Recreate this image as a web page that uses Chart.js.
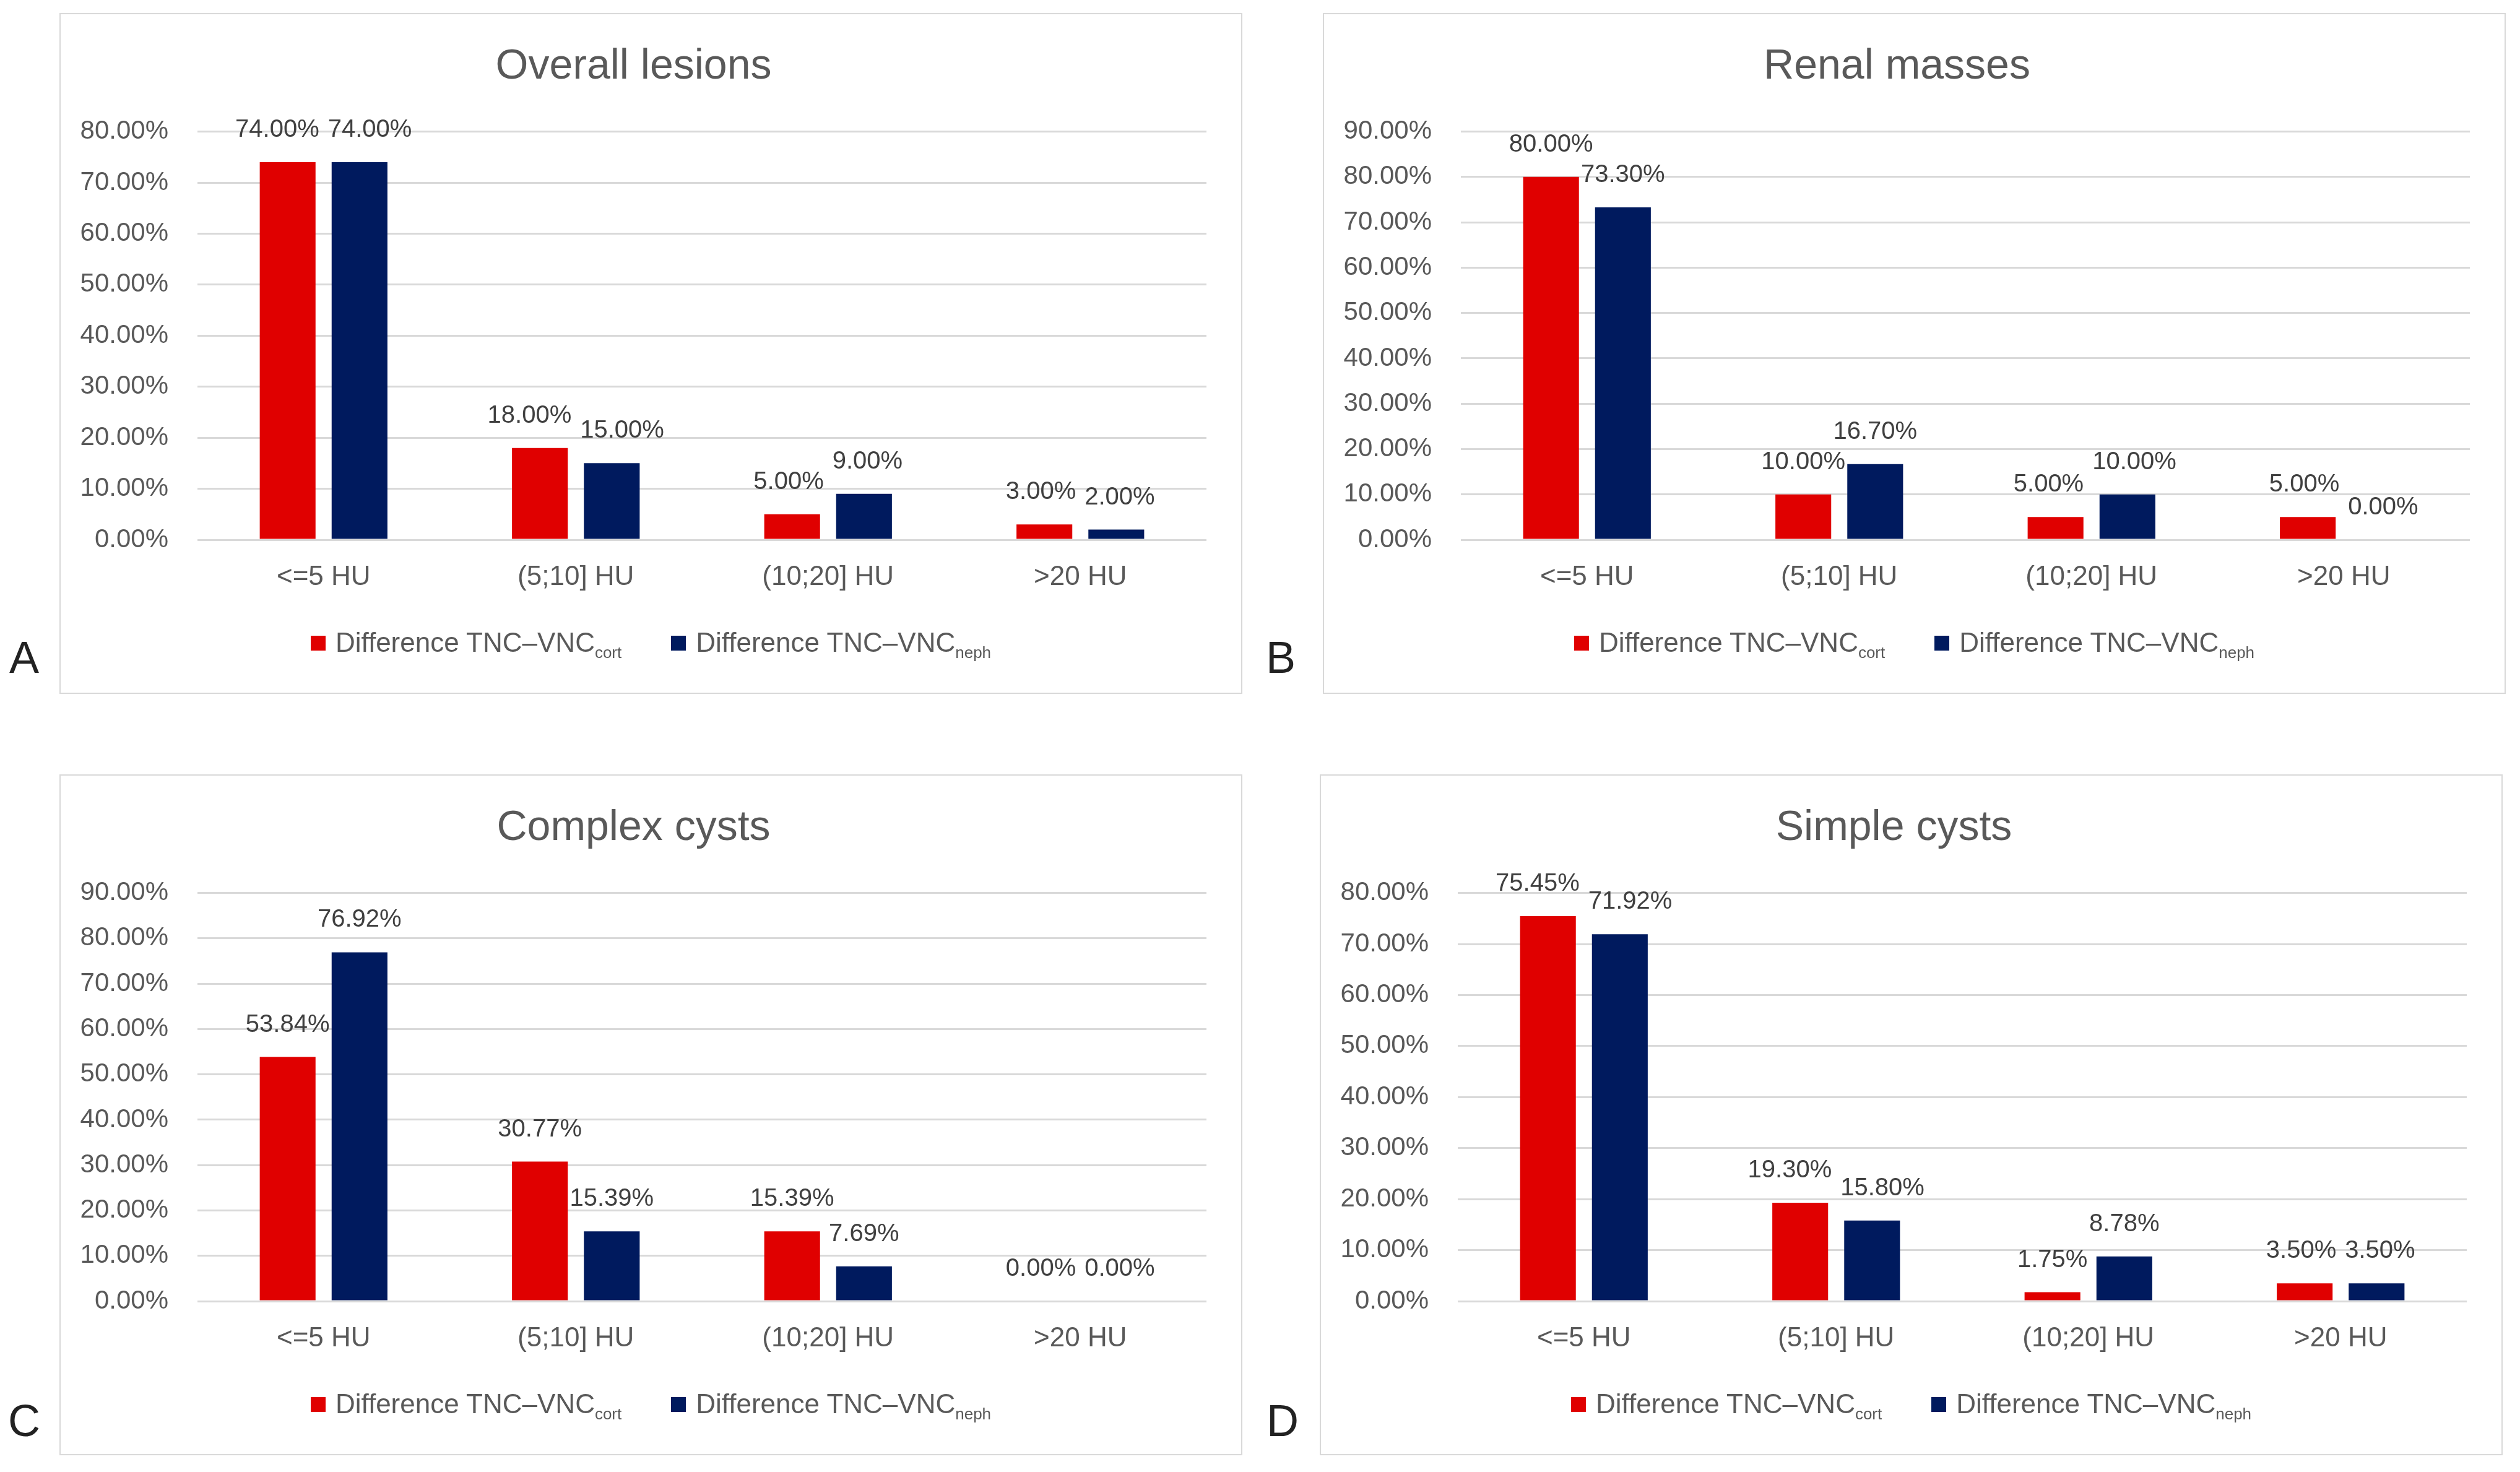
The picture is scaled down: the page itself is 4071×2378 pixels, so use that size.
<!DOCTYPE html>
<html>
<head>
<meta charset="utf-8">
<script src="https://cdn.jsdelivr.net/npm/chart.js@4/dist/chart.umd.min.js"></script>
<style>
  body { margin: 0; width: 4071px; height: 2378px; background: #fff; position: relative; overflow: hidden;
         font-family: 'Liberation Sans', Arial, sans-serif; }
  .panel { position: absolute; width: 1911px; height: 1100px; border: 2px solid #d9d9d9; box-sizing: border-box; }
  .panel canvas { position: absolute; left: 0; top: 0; }
  .legend { position: absolute; left: 0; right: 0; top: 989px; line-height: 52px; display: flex;
            justify-content: center; gap: 80px; font-size: 44px; color: #595959; white-space: nowrap; }
  .legend .box { display: inline-block; width: 24px; height: 24px; margin-right: 16px; vertical-align: 2px; }
  .legend sub { font-size: 26px; vertical-align: -10px; line-height: 0; }
  .letter { position: absolute; font-size: 72px; color: #222; transform: translate(-50%, -50%); }
</style>
</head>
<body>
<script>
const categories = ['<=5 HU', '(5;10] HU', '(10;20] HU', '>20 HU'];
const seriesNames = ['Difference TNC\u2013VNC', 'Difference TNC\u2013VNC'];
const seriesSubs = ['cort', 'neph'];
const seriesColors = ['#e00000', '#001a5e'];

const panelTitles = ['Overall lesions', 'Renal masses', 'Complex cysts', 'Simple cysts'];
const panelLetters = ['A', 'B', 'C', 'D'];
const axisMax = [80, 90, 90, 80];

const overallCort = [74, 18, 5, 3];
const overallNeph = [74, 15, 9, 2];
const renalCort = [80, 10, 5, 5];
const renalNeph = [73.3, 16.7, 10, 0];
const complexCort = [53.84, 30.77, 15.39, 0];
const complexNeph = [76.92, 15.39, 7.69, 0];
const simpleCort = [75.45, 19.3, 1.75, 3.5];
const simpleNeph = [71.92, 15.8, 8.78, 3.5];

const panelSeries = [
    [overallCort, overallNeph],
    [renalCort, renalNeph],
    [complexCort, complexNeph],
    [simpleCort, simpleNeph]
];

// page layout (pixels)
const panelLeft = [96, 2137, 96, 2132];
const panelTop = [21, 21, 1251, 1251];
const letterPos = [[39, 1062], [2069, 1062], [39, 2295], [2072, 2295]];

const FONT = "'Liberation Sans', Arial, sans-serif";
const LABEL_SIZE = 40;

// value labels above the bars; labels of one category that collide get pushed apart
const valueLabels = {
    id: 'valueLabels',
    afterDatasetsDraw(chart) {
        const ctx = chart.ctx;
        ctx.save();
        ctx.font = LABEL_SIZE + 'px ' + FONT;
        ctx.fillStyle = '#404040';
        ctx.textAlign = 'center';
        ctx.textBaseline = 'middle';
        const n = chart.data.labels.length;
        for (let j = 0; j < n; j++) {
            const items = chart.data.datasets.map((ds, i) => {
                const bar = chart.getDatasetMeta(i).data[j];
                const text = ds.data[j].toFixed(2) + '%';
                return { text, x: bar.x, y: bar.y - 52, w: ctx.measureText(text).width };
            });
            for (let k = 1; k < items.length; k++) {
                const a = items[k - 1], b = items[k];
                if (Math.abs(a.y - b.y) < LABEL_SIZE) {
                    const overlap = (a.w + b.w) / 2 + 14 - (b.x - a.x);
                    if (overlap > 0) {
                        a.x -= overlap / 2;
                        b.x += overlap / 2;
                    }
                }
            }
            items.forEach((it) => ctx.fillText(it.text, it.x, it.y));
        }
        ctx.restore();
    }
};

const buildLegend = (chart, el) => {
    const items = chart.options.plugins.legend.labels.generateLabels(chart);
    items.forEach((item, i) => {
        const span = document.createElement('span');
        span.innerHTML = '<span class="box" style="background:' + item.fillStyle + '"></span>' +
            item.text + '<sub>' + seriesSubs[i] + '</sub>';
        el.appendChild(span);
    });
};

const createPanel = (idx) => {
    const panel = document.createElement('div');
    panel.className = 'panel';
    panel.style.left = panelLeft[idx] + 'px';
    panel.style.top = panelTop[idx] + 'px';
    const canvas = document.createElement('canvas');
    canvas.width = 1907;
    canvas.height = 1096;
    panel.appendChild(canvas);
    const legend = document.createElement('div');
    legend.className = 'legend';
    panel.appendChild(legend);
    document.body.appendChild(panel);

    const letter = document.createElement('div');
    letter.className = 'letter';
    letter.textContent = panelLetters[idx];
    letter.style.left = letterPos[idx][0] + 'px';
    letter.style.top = letterPos[idx][1] + 'px';
    document.body.appendChild(letter);

    const chart = new Chart(canvas, {
        type: 'bar',
        data: {
            labels: categories,
            datasets: panelSeries[idx].map((values, i) => ({
                label: seriesNames[i],
                data: values,
                backgroundColor: seriesColors[i],
                categoryPercentage: 0.57,
                barPercentage: 0.776
            }))
        },
        options: {
            responsive: false,
            animation: false,
            devicePixelRatio: 1,
            layout: { padding: { left: 0, right: 56, top: 0, bottom: 0 } },
            plugins: {
                legend: { display: false },
                tooltip: { enabled: false },
                title: {
                    display: true,
                    text: panelTitles[idx],
                    color: '#595959',
                    font: { family: FONT, size: 68, weight: 'normal' },
                    padding: { top: 44, bottom: 64 }
                }
            },
            scales: {
                x: {
                    grid: { display: false, drawTicks: false },
                    border: { display: false },
                    ticks: { color: '#595959', font: { family: FONT, size: 44 }, padding: 34 },
                    afterFit: (scale) => { scale.height = 247; }
                },
                y: {
                    min: 0,
                    max: axisMax[idx],
                    grid: { color: '#d9d9d9', lineWidth: 3, drawTicks: false },
                    border: { display: false },
                    ticks: {
                        stepSize: 10,
                        color: '#595959',
                        font: { family: FONT, size: 42 },
                        padding: 47,
                        callback: (v) => v.toFixed(2) + '%'
                    },
                    afterFit: (scale) => { scale.width = 221; }
                }
            }
        },
        plugins: [valueLabels]
    });
    buildLegend(chart, legend);
};

panelTitles.forEach((t, i) => createPanel(i));
</script>
</body>
</html>
